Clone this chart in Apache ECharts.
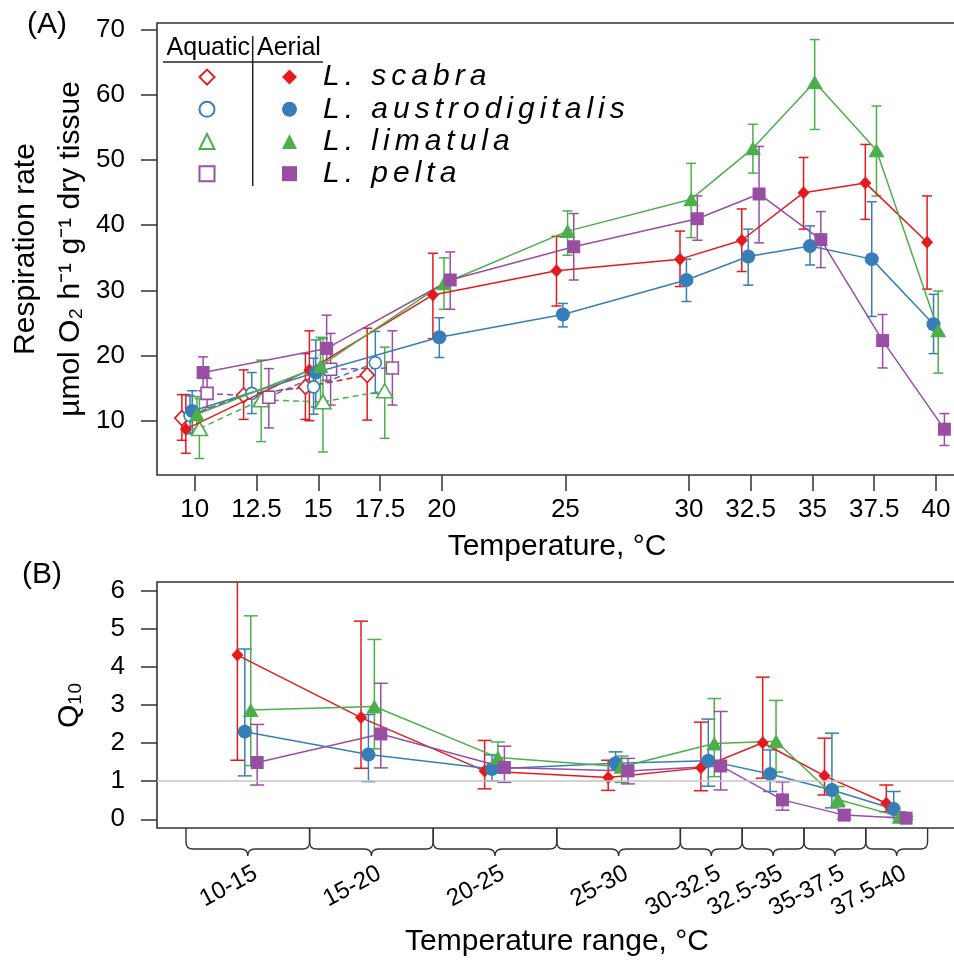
<!DOCTYPE html>
<html>
<head>
<meta charset="utf-8">
<title>Limpet respiration and Q10</title>
<script src="https://cdn.jsdelivr.net/npm/echarts@6/dist/echarts.min.js"></script>
<style>
  html, body { margin: 0; padding: 0; background: #fff; }
  #chart { width: 954px; height: 962px; }
</style>
</head>
<body>
<div id="chart"></div>
<script>
// ---------- data ----------
const speciesNames = ['L. scabra', 'L. austrodigitalis', 'L. limatula', 'L. pelta'];

// Respiration rate (µmol O2 h-1 g-1 dry tissue), aerial exposure
const aerialTemps = [10, 15, 20, 25, 30, 32.5, 35, 37.5, 40];
const scabraAir      = [8.7, 17.8, 29.3, 33.0, 34.8, 37.7, 45.0, 46.5, 37.4];
const scabraAirLo    = [5.0, 10.0, 22.6, 27.6, 30.6, 32.9, 39.4, 40.9, 30.2];
const scabraAirHi    = [14.0, 23.8, 35.7, 38.3, 39.1, 42.5, 50.4, 52.4, 44.5];
const austroAir      = [11.5, 17.4, 22.8, 26.3, 31.6, 35.2, 36.8, 34.8, 24.8];
const austroAirLo    = [8.1, 12.1, 19.7, 24.4, 28.3, 30.8, 33.9, 26.0, 20.3];
const austroAirHi    = [14.6, 22.4, 25.8, 28.0, 34.8, 39.4, 39.9, 43.6, 29.4];
const limatulaAir    = [11.0, 18.4, 31.1, 39.1, 44.0, 51.8, 62.0, 51.5, 23.9];
const limatulaAirLo  = [8.8, 12.3, 27.1, 35.4, 38.1, 48.0, 54.7, 44.5, 17.3];
const limatulaAirHi  = [13.7, 22.8, 35.0, 42.2, 49.5, 55.5, 68.5, 58.3, 29.9];
const peltaAir       = [17.4, 21.1, 31.6, 36.7, 41.0, 44.8, 37.8, 22.3, 8.7];
const peltaAirLo     = [14.6, 16.2, 27.1, 31.6, 37.7, 37.3, 33.5, 18.1, 6.2];
const peltaAirHi     = [19.8, 26.2, 35.9, 41.8, 44.5, 52.1, 42.1, 26.3, 11.1];

// Respiration rate, aquatic (submerged)
const aquaticTemps = [10, 12.5, 15, 17.5];
const scabraWater     = [10.4, 13.9, 15.2, 17.0];
const scabraWaterLo   = [7.0, 10.2, 10.2, 10.1];
const scabraWaterHi   = [14.0, 17.8, 20.3, 24.2];
const austroWater     = [10.8, 14.2, 15.2, 18.9];
const austroWaterLo   = [8.0, 11.1, 11.0, 14.2];
const austroWaterHi   = [13.8, 17.4, 19.6, 23.7];
const limatulaWater   = [8.8, 13.2, 12.9, 14.6];
const limatulaWaterLo = [4.2, 6.8, 5.2, 7.3];
const limatulaWaterHi = [13.4, 19.3, 22.6, 21.3];
const peltaWater      = [14.2, 13.6, 17.9, 18.1];
const peltaWaterLo    = [12.0, 8.9, 12.4, 12.4];
const peltaWaterHi    = [16.5, 18.0, 23.4, 23.8];

// Q10 per temperature range (aerial)
const rangeLabels = ['10-15', '15-20', '20-25', '25-30', '30-32.5', '32.5-35', '35-37.5', '37.5-40'];
const rangeLow  = [10, 15, 20, 25, 30, 32.5, 35, 37.5];
const rangeHigh = [15, 20, 25, 30, 32.5, 35, 37.5, 40];
const scabraQ10     = [4.31, 2.67, 1.27, 1.10, 1.35, 2.01, 1.14, 0.42];
const scabraQ10Lo   = [1.55, 1.34, 0.80, 0.76, 0.75, 1.08, 0.64, 0.20];
const scabraQ10Hi   = [6.80, 5.20, 2.07, 1.55, 2.55, 3.73, 2.13, 0.90];
const austroQ10     = [2.30, 1.70, 1.32, 1.47, 1.54, 1.19, 0.77, 0.27];
const austroQ10Lo   = [1.14, 0.99, 1.01, 1.29, 0.87, 0.73, 0.30, 0.05];
const austroQ10Hi   = [4.47, 2.75, 1.69, 1.77, 2.63, 1.82, 2.26, 0.73];
const limatulaQ10   = [2.87, 2.96, 1.62, 1.38, 1.99, 2.05, 0.52, 0.07];
const limatulaQ10Lo = [1.41, 1.85, 1.22, 0.97, 1.12, 1.24, 0.33, 0.00];
const limatulaQ10Hi = [5.34, 4.72, 2.03, 1.66, 3.17, 3.12, 0.86, 0.20];
const peltaQ10      = [1.49, 2.24, 1.36, 1.27, 1.40, 0.51, 0.11, 0.03];
const peltaQ10Lo    = [0.90, 1.35, 0.97, 0.93, 0.77, 0.24, 0.00, 0.00];
const peltaQ10Hi    = [2.49, 3.57, 1.92, 1.60, 2.83, 0.98, 0.24, 0.08];

// Tick labels
const tempTicks = [10, 12.5, 15, 17.5, 20, 25, 30, 32.5, 35, 37.5, 40];
const respTicks = [10, 20, 30, 40, 50, 60, 70];
const q10Ticks  = [0, 1, 2, 3, 4, 5, 6];

// ---------- styling ----------
const FONT = '"Liberation Sans", Arial, Helvetica, sans-serif';
const colors = ['#E41A1C', '#377EB8', '#4DAF4A', '#984EA3'];
const symbols = ['diamond', 'circle', 'triangle', 'rect'];
const filledSize = [[12, 13], 14, [16, 14], 13];
const openSize = [[14, 15], 12, [16, 14], 12];
// horizontal dodge (°C) so overlapping species stay readable
const dodgeAir = [-0.36, -0.1, 0.09, 0.34];
const dodgeWater = [-0.52, -0.19, 0.19, 0.5];
const dodgeQ10 = [-0.42, -0.12, 0.12, 0.38];

const air = [[scabraAir, scabraAirLo, scabraAirHi], [austroAir, austroAirLo, austroAirHi],
             [limatulaAir, limatulaAirLo, limatulaAirHi], [peltaAir, peltaAirLo, peltaAirHi]];
const water = [[scabraWater, scabraWaterLo, scabraWaterHi], [austroWater, austroWaterLo, austroWaterHi],
               [limatulaWater, limatulaWaterLo, limatulaWaterHi], [peltaWater, peltaWaterLo, peltaWaterHi]];
const q10 = [[scabraQ10, scabraQ10Lo, scabraQ10Hi], [austroQ10, austroQ10Lo, austroQ10Hi],
             [limatulaQ10, limatulaQ10Lo, limatulaQ10Hi], [peltaQ10, peltaQ10Lo, peltaQ10Hi]];

const waterName = n => n + ' (aquatic)';
const spaced = s => s.split('').join('\u2006');

function errorBars(capHalf) {
  return function (params, api) {
    const x = api.value(0);
    const pLo = api.coord([x, api.value(1)]);
    const pHi = api.coord([x, api.value(2)]);
    const style = { stroke: api.visual('color'), lineWidth: 1.5, fill: null };
    return {
      type: 'group',
      children: [
        { type: 'line', shape: { x1: pLo[0], y1: pLo[1], x2: pHi[0], y2: pHi[1] }, style },
        { type: 'line', shape: { x1: pLo[0] - capHalf, y1: pLo[1], x2: pLo[0] + capHalf, y2: pLo[1] }, style },
        { type: 'line', shape: { x1: pHi[0] - capHalf, y1: pHi[1], x2: pHi[0] + capHalf, y2: pHi[1] }, style }
      ]
    };
  };
}

// curly brace under each temperature range, with its slanted label
function braceItem(params, api) {
  const lo = api.value(0), hi = api.value(1);
  const cs = params.coordSys;
  const y0 = cs.y + cs.height;
  const x0 = api.coord([lo, 0])[0];
  const x1 = api.coord([hi, 0])[0];
  const xm = (x0 + x1) / 2;
  const r = 7;
  const path =
    'M' + x0 + ' ' + y0 +
    ' L' + x0 + ' ' + (y0 + 14) +
    ' Q' + x0 + ' ' + (y0 + 21) + ' ' + (x0 + r) + ' ' + (y0 + 21) +
    ' L' + (xm - r) + ' ' + (y0 + 21) +
    ' Q' + xm + ' ' + (y0 + 21) + ' ' + xm + ' ' + (y0 + 28) +
    ' Q' + xm + ' ' + (y0 + 21) + ' ' + (xm + r) + ' ' + (y0 + 21) +
    ' L' + (x1 - r) + ' ' + (y0 + 21) +
    ' Q' + x1 + ' ' + (y0 + 21) + ' ' + x1 + ' ' + (y0 + 14) +
    ' L' + x1 + ' ' + y0;
  return {
    type: 'group',
    children: [
      { type: 'path', shape: { pathData: path }, style: { stroke: '#333', lineWidth: 1.4, fill: null } },
      {
        type: 'text', x: xm + 8, y: y0 + 44, rotation: 28 * Math.PI / 180,
        style: { text: rangeLabels[params.dataIndex], align: 'right', verticalAlign: 'middle',
                 font: '24px ' + FONT, fill: '#000' }
      }
    ]
  };
}

// ---------- series ----------
const series = [];
for (let i = 0; i < 4; i++) {
  const c = colors[i];
  // panel A: aquatic error bars + dashed line with open markers
  series.push({
    type: 'custom', name: waterName(speciesNames[i]) + ' err', xAxisIndex: 0, yAxisIndex: 0,
    renderItem: errorBars(5), clip: true, z: 2, itemStyle: { color: c },
    encode: { x: 0, y: [1, 2] },
    data: aquaticTemps.map((t, k) => [t + dodgeWater[i], water[i][1][k], water[i][2][k]])
  });
  series.push({
    type: 'line', name: waterName(speciesNames[i]), xAxisIndex: 0, yAxisIndex: 0, z: 3,
    symbol: symbols[i], symbolSize: openSize[i], showSymbol: true,
    itemStyle: { color: '#fff', borderColor: c, borderWidth: 1.6 },
    lineStyle: { color: c, width: 1.5, type: [6, 4] },
    emphasis: { disabled: true },
    data: aquaticTemps.map((t, k) => [t + dodgeWater[i], water[i][0][k]])
  });
  // panel A: aerial error bars + solid line with filled markers
  series.push({
    type: 'custom', name: speciesNames[i] + ' err', xAxisIndex: 0, yAxisIndex: 0,
    renderItem: errorBars(5), clip: true, z: 2, itemStyle: { color: c },
    encode: { x: 0, y: [1, 2] },
    data: aerialTemps.map((t, k) => [t + dodgeAir[i], air[i][1][k], air[i][2][k]])
  });
  series.push({
    type: 'line', name: speciesNames[i], xAxisIndex: 0, yAxisIndex: 0, z: 4,
    symbol: symbols[i], symbolSize: filledSize[i], showSymbol: true,
    itemStyle: { color: c, borderWidth: 0 },
    lineStyle: { color: c, width: 1.5 },
    emphasis: { disabled: true },
    data: aerialTemps.map((t, k) => [t + dodgeAir[i], air[i][0][k]])
  });
  // panel B: Q10
  series.push({
    type: 'custom', name: speciesNames[i] + ' q10 err', xAxisIndex: 1, yAxisIndex: 1,
    renderItem: errorBars(7), clip: true, z: 2, itemStyle: { color: c },
    encode: { x: 0, y: [1, 2] },
    data: rangeLow.map((lo, k) => [(lo + rangeHigh[k]) / 2 + dodgeQ10[i], q10[i][1][k], q10[i][2][k]])
  });
  series.push({
    type: 'line', name: speciesNames[i] + ' q10', xAxisIndex: 1, yAxisIndex: 1, z: 4,
    symbol: symbols[i], symbolSize: filledSize[i], showSymbol: true,
    itemStyle: { color: c, borderWidth: 0 },
    lineStyle: { color: c, width: 1.5 },
    emphasis: { disabled: true },
    data: rangeLow.map((lo, k) => [(lo + rangeHigh[k]) / 2 + dodgeQ10[i], q10[i][0][k]])
  });
}
// Q10 = 1 reference line
series.push({
  type: 'line', name: 'q10 ref', xAxisIndex: 1, yAxisIndex: 1, z: 1, data: [],
  markLine: { silent: true, symbol: 'none', label: { show: false },
              lineStyle: { color: '#c4c4c4', width: 1.6, type: 'solid' }, data: [{ yAxis: 1 }] }
});
// braces for the temperature ranges
series.push({
  type: 'custom', name: 'ranges', xAxisIndex: 1, yAxisIndex: 1, clip: false, z: 5, silent: true,
  renderItem: braceItem, encode: { x: [0, 1] },
  data: rangeLow.map((lo, k) => [lo, rangeHigh[k]])
});

// ---------- axes ----------
const tickStyle = { show: true, inside: false, length: 16, lineStyle: { color: '#333', width: 1.5 } };
const labelStyle = { color: '#000', fontFamily: FONT, fontSize: 26 };
const nameStyle = { color: '#000', fontFamily: FONT, fontSize: 30 };
const legendText = { fontFamily: FONT, fontSize: 30, fontStyle: 'italic', color: '#000',
                     lineHeight: 32.2, padding: [0, 0, 0, 21] };

const option = {
  animation: false,
  backgroundColor: '#fff',
  textStyle: { fontFamily: FONT },
  grid: [
    { left: 157, top: 23, width: 800, height: 452, show: true, borderColor: '#333', borderWidth: 1.6,
      containLabel: false, outerBoundsMode: 'none' },
    { left: 157, top: 582, width: 800, height: 246, show: true, borderColor: '#333', borderWidth: 1.6,
      containLabel: false, outerBoundsMode: 'none' }
  ],
  xAxis: [
    {
      type: 'value', gridIndex: 0, min: 8.474, max: 40.85,
      axisLine: { show: false }, splitLine: { show: false },
      axisTick: Object.assign({ customValues: tempTicks }, tickStyle),
      axisLabel: Object.assign({ customValues: tempTicks, margin: 22, formatter: v => String(v) }, labelStyle),
      name: 'Temperature, \u00B0C', nameLocation: 'middle', nameGap: 57, nameTextStyle: nameStyle
    },
    {
      type: 'value', gridIndex: 1, min: 8.827, max: 41.19,
      axisLine: { show: false }, splitLine: { show: false },
      axisTick: { show: false }, axisLabel: { show: false },
      name: 'Temperature range, \u00B0C', nameLocation: 'middle', nameGap: 99, nameTextStyle: nameStyle
    }
  ],
  yAxis: [
    {
      type: 'value', gridIndex: 0, min: 1.67, max: 71.04,
      axisLine: { show: false }, splitLine: { show: false },
      axisTick: Object.assign({ customValues: respTicks }, tickStyle),
      axisLabel: Object.assign({ customValues: respTicks, margin: 32 }, labelStyle),
      name: 'Respiration rate\n\u00B5mol O\u2082 h\u207B\u00B9 g\u207B\u00B9 dry tissue',
      nameLocation: 'middle', nameGap: 64, nameRotate: 90, nameMoveOverlap: false,
      nameTextStyle: Object.assign({ lineHeight: 45 }, nameStyle)
    },
    {
      type: 'value', gridIndex: 1, min: -0.228, max: 6.228,
      axisLine: { show: false }, splitLine: { show: false },
      axisTick: Object.assign({ customValues: q10Ticks }, tickStyle),
      axisLabel: Object.assign({ customValues: q10Ticks, margin: 32 }, labelStyle),
      name: 'Q\u2081\u2080', nameLocation: 'middle', nameGap: 72, nameRotate: 90,
      nameTextStyle: nameStyle
    }
  ],
  legend: [
    {
      data: speciesNames.map((n, i) => ({ name: waterName(n), icon: symbols[i] })),
      orient: 'vertical', left: 198.5, top: 61, padding: 0, itemGap: 0,
      itemWidth: 15, itemHeight: 15, selectedMode: false,
      formatter: () => ' ', textStyle: legendText
    },
    {
      data: speciesNames.map((n, i) => ({ name: n, icon: symbols[i] })),
      orient: 'vertical', left: 282, top: 61, padding: 0, itemGap: 0,
      itemWidth: 15, itemHeight: 15, selectedMode: false,
      formatter: n => spaced(n), textStyle: legendText
    }
  ],
  graphic: [
    { type: 'text', x: 47, y: 25, style: { text: '(A)', font: '30px ' + FONT, fill: '#000', align: 'center', verticalAlign: 'middle' } },
    { type: 'text', x: 42, y: 575, style: { text: '(B)', font: '30px ' + FONT, fill: '#000', align: 'center', verticalAlign: 'middle' } },
    { type: 'text', x: 250, y: 48, style: { text: 'Aquatic', font: '25px ' + FONT, fill: '#000', align: 'right', verticalAlign: 'middle' } },
    { type: 'text', x: 257, y: 48, style: { text: 'Aerial', font: '25px ' + FONT, fill: '#000', align: 'left', verticalAlign: 'middle' } },
    { type: 'line', shape: { x1: 163, y1: 62, x2: 323, y2: 62 }, style: { stroke: '#222', lineWidth: 1.5 } },
    { type: 'line', shape: { x1: 252.7, y1: 36, x2: 252.7, y2: 186 }, style: { stroke: '#222', lineWidth: 1.5 } }
  ],
  series
};

const chart = echarts.init(document.getElementById('chart'), null, { renderer: 'canvas' });
chart.setOption(option);
</script>
</body>
</html>
